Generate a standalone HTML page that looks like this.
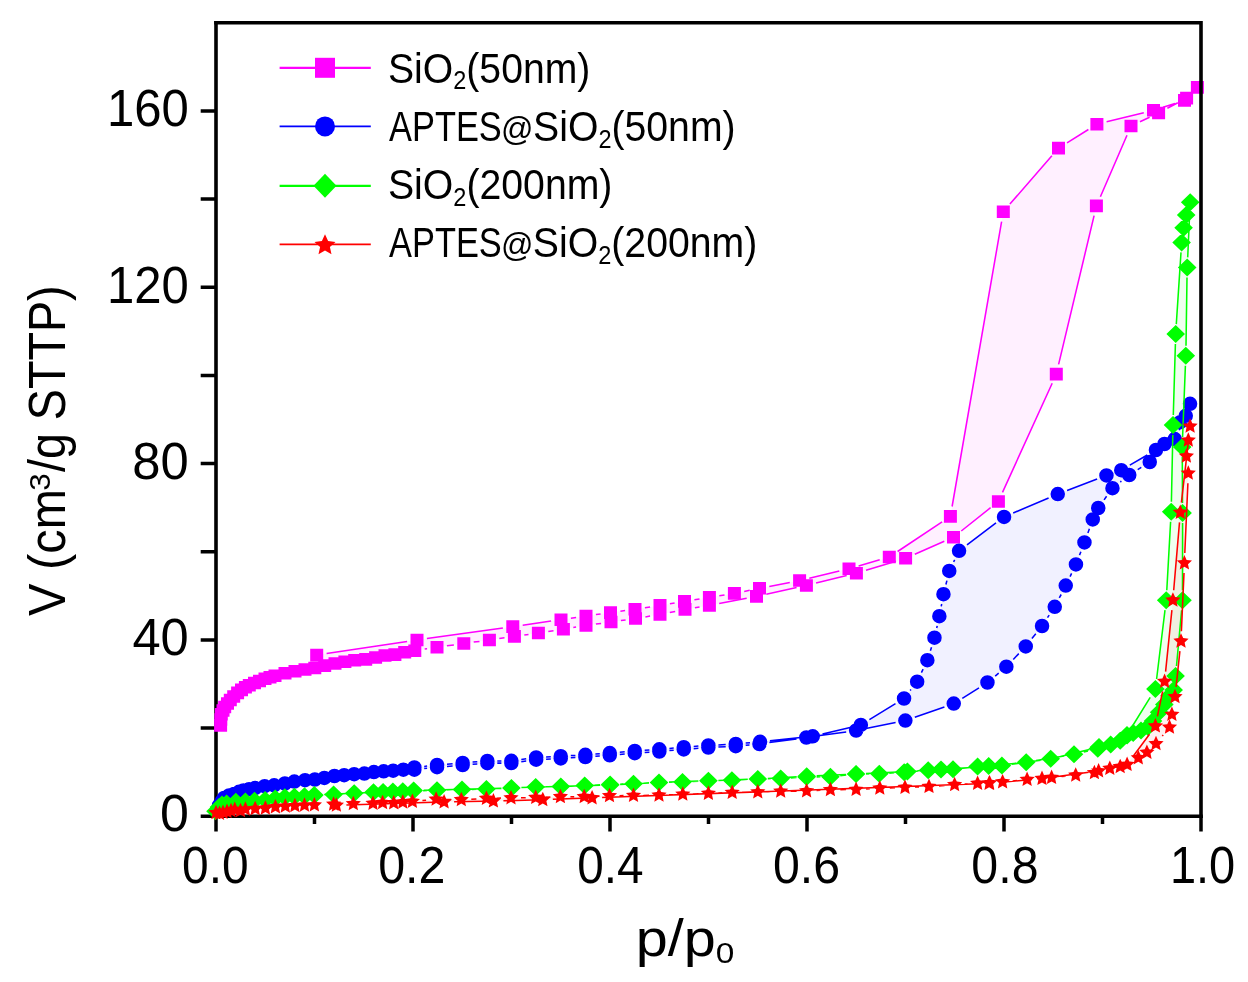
<!DOCTYPE html>
<html><head><meta charset="utf-8"><style>
html,body{margin:0;padding:0;background:#fff;}
body{width:1248px;height:982px;overflow:hidden;}
svg{display:block;will-change:transform;}
</style></head><body>
<svg width="1248" height="982" viewBox="0 0 1248 982">
<rect width="1248" height="982" fill="#fff"/>
<path d="M216 21.0V818.1M214.2 816.3H1202.8" stroke="#000" stroke-width="3.6" fill="none"/>
<path d="M216.0 816.3v15.3M314.5 816.3v7.6M413.0 816.3v15.3M511.5 816.3v7.6M610.0 816.3v15.3M708.5 816.3v7.6M807.0 816.3v15.3M905.5 816.3v7.6M1004.0 816.3v15.3M1102.5 816.3v7.6M1201.0 816.3v15.3M216.0 816.3h-15.3M216.0 728.1h-15.3M216.0 640.0h-15.3M216.0 551.8h-15.3M216.0 463.6h-15.3M216.0 375.5h-15.3M216.0 287.3h-15.3M216.0 199.1h-15.3M216.0 111.0h-15.3" stroke="#000" stroke-width="3.5" fill="none"/>
<path d="M316.7 667.5L324.7 665.6L335.0 663.5L344.9 661.8L354.7 660.3L365.7 659.4L375.6 657.5L385.0 655.5L394.9 654.6L404.7 652.2L414.8 650.7L437.0 647.2L463.8 643.5L489.4 640.0L514.4 636.4L538.4 633.0L563.4 629.2L586.0 625.5L611.0 622.0L635.5 618.5L660.0 614.5L685.0 609.4L709.4 605.4L756.5 596.4L806.4 585.5L856.4 573.2L905.6 558.3L953.5 537.2L998.4 501.5L1056.3 374.1L1096.4 205.9L1131.0 126.0L1158.6 113.0L1186.6 98.1L1197.4 87.4L1197.4 87.4L1184.5 100.4L1153.5 110.3L1096.9 124.2L1058.5 148.1L1003.3 211.7L950.4 516.4L889.3 557.0L849.0 568.7L799.6 580.5L759.5 588.3L734.4 593.4L709.4 597.2L684.5 601.4L660.0 605.4L635.0 609.3L610.5 612.6L586.0 616.0L561.0 619.7L512.8 626.6L417.0 640.0L316.7 655.1z" fill="#fff0ff"/>
<path d="M414.3 769.7L437.0 767.2L462.6 765.1L487.3 763.2L511.4 763.0L536.1 759.7L560.8 758.4L585.4 757.0L609.8 755.3L634.7 753.2L659.4 751.5L683.7 749.4L708.4 747.6L735.7 746.2L759.5 744.0L806.4 737.5L856.1 730.5L905.4 720.6L953.8 703.6L987.5 682.5L1006.4 666.7L1025.7 646.4L1042.0 626.0L1054.7 606.8L1065.8 585.6L1075.9 564.4L1084.5 542.4L1092.8 519.4L1098.3 508.0L1112.4 488.2L1129.3 475.0L1149.7 462.0L1180.3 422.2L1190.0 403.8L1190.0 403.8L1185.8 415.8L1174.8 439.1L1164.4 444.0L1155.9 450.0L1121.2 470.2L1106.4 475.4L1057.8 494.1L1004.0 516.9L959.0 550.8L949.3 570.9L943.5 594.2L939.4 616.2L934.5 637.7L927.4 660.2L917.1 681.7L904.0 698.5L860.9 724.9L812.8 736.3L760.0 741.8L735.7 744.0L708.4 745.4L683.7 747.2L659.4 749.3L634.7 751.0L609.8 753.1L585.4 754.8L560.8 756.2L536.1 757.5L511.4 760.8L487.3 761.0L462.6 762.9L437.0 765.0L414.3 767.5z" fill="#f1f1ff"/>
<path d="M314.3 795.3L333.6 794.4L354.2 793.3L373.5 792.3L383.1 792.0L392.9 791.6L402.8 791.3L413.1 791.0L437.0 790.2L462.0 789.6L486.4 789.1L511.4 787.9L535.7 787.0L560.8 786.6L584.7 785.6L610.1 784.5L633.5 783.7L659.0 782.5L682.5 782.0L708.4 780.7L731.9 780.2L757.8 779.0L780.7 778.6L806.6 777.0L830.4 776.7L856.1 774.1L879.3 773.8L904.2 772.2L928.2 770.3L953.0 769.3L977.6 766.6L988.7 766.1L1026.2 762.2L1074.0 754.2L1097.8 748.8L1110.7 744.6L1120.2 740.7L1127.1 735.6L1133.2 733.0L1141.0 730.4L1147.9 726.9L1153.0 721.0L1159.1 712.2L1164.3 704.4L1169.5 695.8L1173.7 690.0L1175.6 676.0L1182.5 600.2L1182.6 513.0L1182.2 447.0L1185.8 355.7L1187.2 267.4L1190.2 202.2L1190.2 202.2L1186.2 214.9L1183.6 227.7L1181.6 242.4L1175.7 334.1L1173.0 425.0L1171.2 511.8L1166.2 600.2L1155.4 688.9L1127.0 735.0L1099.0 747.0L1050.7 758.8L1001.9 765.6L941.0 769.4L907.4 771.4L856.0 774.0L806.7 776.2L757.8 779.0L708.4 780.7L659.0 782.5L610.2 785.0L511.4 787.9L413.7 790.5L314.3 795.0z" fill="#00ff00" fill-opacity="0.06"/>
<path d="M336.4 804.2L353.3 803.8L373.0 803.4L382.6 802.7L393.7 802.9L402.8 802.2L412.4 801.4L436.1 799.3L461.3 799.7L486.4 798.4L511.0 797.9L535.7 797.6L560.4 796.7L584.2 796.7L609.5 795.8L633.5 795.5L659.0 795.2L682.8 794.3L708.4 793.4L732.2 792.5L757.8 792.0L780.7 791.3L806.6 790.9L830.4 789.8L856.1 789.5L879.8 788.2L905.0 787.4L929.0 786.6L954.6 784.7L977.6 783.4L989.6 782.9L1002.6 781.9L1027.1 779.5L1051.6 777.6L1075.7 775.2L1094.4 772.8L1109.8 768.4L1120.2 766.7L1127.1 764.6L1138.3 757.9L1146.9 752.4L1156.0 743.8L1169.5 727.3L1171.9 714.5L1175.0 696.8L1181.0 641.2L1184.4 563.0L1188.3 473.3L1186.4 456.2L1188.3 440.3L1190.1 426.3L1190.1 426.3L1180.3 512.4L1172.9 600.2L1164.6 681.5L1155.4 726.1L1127.1 764.6L1098.6 771.0L1042.0 778.6L989.1 783.4L592.1 797.9L542.8 799.7L493.4 801.1L444.1 802.0L336.4 805.3z" fill="#ff0000" fill-opacity="0.06"/>
<path d="M424.7 649.1L427.1 648.8M446.9 645.8L453.9 644.9M473.7 642.1L479.5 641.4M499.3 638.6L504.5 637.8M524.3 635.0L528.5 634.4M548.3 631.5L553.5 630.7M573.3 627.6L576.1 627.1M595.9 624.1L601.1 623.4M620.9 620.6L625.6 619.9M645.4 616.9L650.1 616.1M669.8 612.5L675.2 611.4M694.9 607.8L699.5 607.0M719.2 603.5L746.7 598.3M766.3 594.3L796.6 587.6M816.1 583.1L846.7 575.6M866.0 570.3L896.0 561.2M914.8 554.3L944.3 541.2M961.3 531.0L990.6 507.7M1002.5 492.4L1052.2 383.2M1058.6 364.4L1094.1 215.6M1100.4 196.7L1127.0 135.2M1140.0 121.7L1149.6 117.3M1167.4 108.3L1177.8 102.8M1175.0 103.4L1163.0 107.3M1143.8 112.7L1106.6 121.8M1088.4 129.5L1067.0 142.8M1051.9 155.7L1009.9 204.1M1001.6 221.6L952.1 506.5M942.1 521.9L897.6 551.5M879.7 559.8L858.6 565.9M839.3 571.0L809.3 578.2M789.8 582.4L769.3 586.4M749.7 590.3L744.2 591.4M724.5 594.9L719.3 595.7M699.5 598.9L694.4 599.7M674.6 603.0L669.9 603.8M650.1 606.9L644.9 607.8M625.1 610.6L620.4 611.3M600.6 614.0L595.9 614.6M576.1 617.5L570.9 618.2M551.1 621.1L522.7 625.2M502.9 628.0L426.9 638.6M407.1 641.5L326.6 653.6" stroke="#ff00ff" stroke-width="1.55" fill="none"/>
<path d="M214.10 719.10h13.00v12.60h-13.00zM214.30 713.20h13.00v12.60h-13.00zM214.80 707.90h13.00v12.60h-13.00zM216.50 704.20h13.00v12.60h-13.00zM218.20 700.70h13.00v12.60h-13.00zM221.00 697.20h13.00v12.60h-13.00zM223.80 693.70h13.00v12.60h-13.00zM227.20 690.20h13.00v12.60h-13.00zM231.10 686.60h13.00v12.60h-13.00zM235.00 683.60h13.00v12.60h-13.00zM238.90 681.00h13.00v12.60h-13.00zM242.80 679.00h13.00v12.60h-13.00zM248.00 676.70h13.00v12.60h-13.00zM253.00 674.70h13.00v12.60h-13.00zM258.50 672.50h13.00v12.60h-13.00zM263.50 670.90h13.00v12.60h-13.00zM268.50 669.50h13.00v12.60h-13.00zM278.50 666.90h13.00v12.60h-13.00zM288.50 664.90h13.00v12.60h-13.00zM298.50 663.20h13.00v12.60h-13.00zM308.30 661.70h13.00v12.60h-13.00zM318.20 659.30h13.00v12.60h-13.00zM328.50 657.20h13.00v12.60h-13.00zM338.40 655.50h13.00v12.60h-13.00zM348.20 654.00h13.00v12.60h-13.00zM359.20 653.10h13.00v12.60h-13.00zM369.10 651.20h13.00v12.60h-13.00zM378.50 649.20h13.00v12.60h-13.00zM388.40 648.30h13.00v12.60h-13.00zM398.20 645.90h13.00v12.60h-13.00zM408.30 644.40h13.00v12.60h-13.00zM430.50 640.90h13.00v12.60h-13.00zM457.30 637.20h13.00v12.60h-13.00zM482.90 633.70h13.00v12.60h-13.00zM507.90 630.10h13.00v12.60h-13.00zM531.90 626.70h13.00v12.60h-13.00zM556.90 622.90h13.00v12.60h-13.00zM579.50 619.20h13.00v12.60h-13.00zM604.50 615.70h13.00v12.60h-13.00zM629.00 612.20h13.00v12.60h-13.00zM653.50 608.20h13.00v12.60h-13.00zM678.50 603.10h13.00v12.60h-13.00zM702.90 599.10h13.00v12.60h-13.00zM750.00 590.10h13.00v12.60h-13.00zM799.90 579.20h13.00v12.60h-13.00zM849.90 566.90h13.00v12.60h-13.00zM899.10 552.00h13.00v12.60h-13.00zM947.00 530.90h13.00v12.60h-13.00zM991.90 495.20h13.00v12.60h-13.00zM1049.80 367.80h13.00v12.60h-13.00zM1089.90 199.60h13.00v12.60h-13.00zM1124.50 119.70h13.00v12.60h-13.00zM1152.10 106.70h13.00v12.60h-13.00zM1180.10 91.80h13.00v12.60h-13.00zM1190.90 81.10h13.00v12.60h-13.00zM1190.90 81.10h13.00v12.60h-13.00zM1178.00 94.10h13.00v12.60h-13.00zM1147.00 104.00h13.00v12.60h-13.00zM1090.40 117.90h13.00v12.60h-13.00zM1052.00 141.80h13.00v12.60h-13.00zM996.80 205.40h13.00v12.60h-13.00zM943.90 510.10h13.00v12.60h-13.00zM882.80 550.70h13.00v12.60h-13.00zM842.50 562.40h13.00v12.60h-13.00zM793.10 574.20h13.00v12.60h-13.00zM753.00 582.00h13.00v12.60h-13.00zM727.90 587.10h13.00v12.60h-13.00zM702.90 590.90h13.00v12.60h-13.00zM678.00 595.10h13.00v12.60h-13.00zM653.50 599.10h13.00v12.60h-13.00zM628.50 603.00h13.00v12.60h-13.00zM604.00 606.30h13.00v12.60h-13.00zM579.50 609.70h13.00v12.60h-13.00zM554.50 613.40h13.00v12.60h-13.00zM506.30 620.30h13.00v12.60h-13.00zM410.50 633.70h13.00v12.60h-13.00zM310.20 648.80h13.00v12.60h-13.00z" fill="#ff00ff"/>
<path d="M424.2 768.6L427.1 768.3M447.0 766.4L452.6 765.9M472.6 764.3L477.3 764.0M497.3 763.1L501.4 763.1M521.3 761.7L526.2 761.0M546.1 759.2L550.8 758.9M570.8 757.8L575.4 757.6M595.4 756.3L599.8 756.0M619.8 754.5L624.7 754.0M644.7 752.5L649.4 752.2M669.4 750.6L673.7 750.3M693.7 748.7L698.4 748.3M718.4 747.1L725.7 746.7M745.7 745.3L749.5 744.9M769.4 742.6L796.5 738.9M816.3 736.1L846.2 731.9M865.9 728.5L895.6 722.6M914.8 717.3L944.4 706.9M962.3 698.3L979.0 687.8M995.2 676.1L998.7 673.1M1013.3 659.5L1018.8 653.6M1031.9 638.6L1035.8 633.8M1047.5 617.7L1049.2 615.1M1059.3 597.9L1061.2 594.5M1070.1 576.6L1071.6 573.4M1079.5 555.1L1080.9 551.7M1087.9 533.0L1089.4 528.8M1104.1 499.9L1106.6 496.3M1120.3 482.0L1121.4 481.2M1137.7 469.6L1141.3 467.4M1155.8 454.1L1174.2 430.1M1185.0 413.4L1185.3 412.6M1181.5 424.8L1179.1 430.1M1147.3 455.0L1129.8 465.2M1097.1 479.0L1067.1 490.5M1048.6 498.0L1013.2 513.0M996.0 522.9L967.0 544.8M954.7 559.8L953.6 561.9M946.9 580.6L945.9 584.5M941.7 604.0L941.2 606.4M937.2 625.9L936.7 628.0M931.5 647.2L930.4 650.7M923.1 669.2L921.4 672.7M911.0 689.6L910.1 690.6M895.5 703.7L869.4 719.7M851.2 727.2L822.5 734.0M802.9 737.3L769.9 740.8M750.0 742.7L745.7 743.1M725.7 744.5L718.4 744.9M698.4 746.1L693.7 746.5M673.7 748.1L669.4 748.4M649.4 750.0L644.7 750.3M624.7 751.8L619.8 752.3M599.8 753.8L595.4 754.1M575.4 755.4L570.8 755.6M550.8 756.7L546.1 757.0M526.2 758.8L521.3 759.5M501.4 760.9L497.3 760.9M477.3 761.8L472.6 762.1M452.6 763.7L447.0 764.2M427.1 766.1L424.2 766.4" stroke="#0000ff" stroke-width="1.55" fill="none"/>
<path d="M211.8 805.5a7.25 7.25 0 1 0 14.5 0a7.25 7.25 0 1 0 -14.5 0zM214.8 801.0a7.25 7.25 0 1 0 14.5 0a7.25 7.25 0 1 0 -14.5 0zM216.8 798.0a7.25 7.25 0 1 0 14.5 0a7.25 7.25 0 1 0 -14.5 0zM221.8 795.5a7.25 7.25 0 1 0 14.5 0a7.25 7.25 0 1 0 -14.5 0zM226.8 794.0a7.25 7.25 0 1 0 14.5 0a7.25 7.25 0 1 0 -14.5 0zM231.8 791.8a7.25 7.25 0 1 0 14.5 0a7.25 7.25 0 1 0 -14.5 0zM236.2 790.5a7.25 7.25 0 1 0 14.5 0a7.25 7.25 0 1 0 -14.5 0zM241.8 789.3a7.25 7.25 0 1 0 14.5 0a7.25 7.25 0 1 0 -14.5 0zM247.8 788.1a7.25 7.25 0 1 0 14.5 0a7.25 7.25 0 1 0 -14.5 0zM257.4 786.2a7.25 7.25 0 1 0 14.5 0a7.25 7.25 0 1 0 -14.5 0zM266.9 785.3a7.25 7.25 0 1 0 14.5 0a7.25 7.25 0 1 0 -14.5 0zM277.6 783.5a7.25 7.25 0 1 0 14.5 0a7.25 7.25 0 1 0 -14.5 0zM287.1 781.6a7.25 7.25 0 1 0 14.5 0a7.25 7.25 0 1 0 -14.5 0zM297.8 780.2a7.25 7.25 0 1 0 14.5 0a7.25 7.25 0 1 0 -14.5 0zM307.6 779.5a7.25 7.25 0 1 0 14.5 0a7.25 7.25 0 1 0 -14.5 0zM317.1 777.9a7.25 7.25 0 1 0 14.5 0a7.25 7.25 0 1 0 -14.5 0zM327.2 776.0a7.25 7.25 0 1 0 14.5 0a7.25 7.25 0 1 0 -14.5 0zM336.9 775.2a7.25 7.25 0 1 0 14.5 0a7.25 7.25 0 1 0 -14.5 0zM346.9 774.2a7.25 7.25 0 1 0 14.5 0a7.25 7.25 0 1 0 -14.5 0zM357.1 773.6a7.25 7.25 0 1 0 14.5 0a7.25 7.25 0 1 0 -14.5 0zM366.6 772.1a7.25 7.25 0 1 0 14.5 0a7.25 7.25 0 1 0 -14.5 0zM376.4 771.3a7.25 7.25 0 1 0 14.5 0a7.25 7.25 0 1 0 -14.5 0zM385.9 770.7a7.25 7.25 0 1 0 14.5 0a7.25 7.25 0 1 0 -14.5 0zM396.1 769.7a7.25 7.25 0 1 0 14.5 0a7.25 7.25 0 1 0 -14.5 0zM407.1 769.7a7.25 7.25 0 1 0 14.5 0a7.25 7.25 0 1 0 -14.5 0zM429.8 767.2a7.25 7.25 0 1 0 14.5 0a7.25 7.25 0 1 0 -14.5 0zM455.4 765.1a7.25 7.25 0 1 0 14.5 0a7.25 7.25 0 1 0 -14.5 0zM480.1 763.2a7.25 7.25 0 1 0 14.5 0a7.25 7.25 0 1 0 -14.5 0zM504.1 763.0a7.25 7.25 0 1 0 14.5 0a7.25 7.25 0 1 0 -14.5 0zM528.9 759.7a7.25 7.25 0 1 0 14.5 0a7.25 7.25 0 1 0 -14.5 0zM553.5 758.4a7.25 7.25 0 1 0 14.5 0a7.25 7.25 0 1 0 -14.5 0zM578.1 757.0a7.25 7.25 0 1 0 14.5 0a7.25 7.25 0 1 0 -14.5 0zM602.5 755.3a7.25 7.25 0 1 0 14.5 0a7.25 7.25 0 1 0 -14.5 0zM627.5 753.2a7.25 7.25 0 1 0 14.5 0a7.25 7.25 0 1 0 -14.5 0zM652.1 751.5a7.25 7.25 0 1 0 14.5 0a7.25 7.25 0 1 0 -14.5 0zM676.5 749.4a7.25 7.25 0 1 0 14.5 0a7.25 7.25 0 1 0 -14.5 0zM701.1 747.6a7.25 7.25 0 1 0 14.5 0a7.25 7.25 0 1 0 -14.5 0zM728.5 746.2a7.25 7.25 0 1 0 14.5 0a7.25 7.25 0 1 0 -14.5 0zM752.2 744.0a7.25 7.25 0 1 0 14.5 0a7.25 7.25 0 1 0 -14.5 0zM799.1 737.5a7.25 7.25 0 1 0 14.5 0a7.25 7.25 0 1 0 -14.5 0zM848.9 730.5a7.25 7.25 0 1 0 14.5 0a7.25 7.25 0 1 0 -14.5 0zM898.1 720.6a7.25 7.25 0 1 0 14.5 0a7.25 7.25 0 1 0 -14.5 0zM946.5 703.6a7.25 7.25 0 1 0 14.5 0a7.25 7.25 0 1 0 -14.5 0zM980.2 682.5a7.25 7.25 0 1 0 14.5 0a7.25 7.25 0 1 0 -14.5 0zM999.1 666.7a7.25 7.25 0 1 0 14.5 0a7.25 7.25 0 1 0 -14.5 0zM1018.5 646.4a7.25 7.25 0 1 0 14.5 0a7.25 7.25 0 1 0 -14.5 0zM1034.8 626.0a7.25 7.25 0 1 0 14.5 0a7.25 7.25 0 1 0 -14.5 0zM1047.5 606.8a7.25 7.25 0 1 0 14.5 0a7.25 7.25 0 1 0 -14.5 0zM1058.5 585.6a7.25 7.25 0 1 0 14.5 0a7.25 7.25 0 1 0 -14.5 0zM1068.7 564.4a7.25 7.25 0 1 0 14.5 0a7.25 7.25 0 1 0 -14.5 0zM1077.2 542.4a7.25 7.25 0 1 0 14.5 0a7.25 7.25 0 1 0 -14.5 0zM1085.5 519.4a7.25 7.25 0 1 0 14.5 0a7.25 7.25 0 1 0 -14.5 0zM1091.0 508.0a7.25 7.25 0 1 0 14.5 0a7.25 7.25 0 1 0 -14.5 0zM1105.2 488.2a7.25 7.25 0 1 0 14.5 0a7.25 7.25 0 1 0 -14.5 0zM1122.0 475.0a7.25 7.25 0 1 0 14.5 0a7.25 7.25 0 1 0 -14.5 0zM1142.5 462.0a7.25 7.25 0 1 0 14.5 0a7.25 7.25 0 1 0 -14.5 0zM1173.0 422.2a7.25 7.25 0 1 0 14.5 0a7.25 7.25 0 1 0 -14.5 0zM1182.8 403.8a7.25 7.25 0 1 0 14.5 0a7.25 7.25 0 1 0 -14.5 0zM1182.8 403.8a7.25 7.25 0 1 0 14.5 0a7.25 7.25 0 1 0 -14.5 0zM1178.5 415.8a7.25 7.25 0 1 0 14.5 0a7.25 7.25 0 1 0 -14.5 0zM1167.5 439.1a7.25 7.25 0 1 0 14.5 0a7.25 7.25 0 1 0 -14.5 0zM1157.2 444.0a7.25 7.25 0 1 0 14.5 0a7.25 7.25 0 1 0 -14.5 0zM1148.7 450.0a7.25 7.25 0 1 0 14.5 0a7.25 7.25 0 1 0 -14.5 0zM1114.0 470.2a7.25 7.25 0 1 0 14.5 0a7.25 7.25 0 1 0 -14.5 0zM1099.2 475.4a7.25 7.25 0 1 0 14.5 0a7.25 7.25 0 1 0 -14.5 0zM1050.5 494.1a7.25 7.25 0 1 0 14.5 0a7.25 7.25 0 1 0 -14.5 0zM996.8 516.9a7.25 7.25 0 1 0 14.5 0a7.25 7.25 0 1 0 -14.5 0zM951.8 550.8a7.25 7.25 0 1 0 14.5 0a7.25 7.25 0 1 0 -14.5 0zM942.0 570.9a7.25 7.25 0 1 0 14.5 0a7.25 7.25 0 1 0 -14.5 0zM936.2 594.2a7.25 7.25 0 1 0 14.5 0a7.25 7.25 0 1 0 -14.5 0zM932.1 616.2a7.25 7.25 0 1 0 14.5 0a7.25 7.25 0 1 0 -14.5 0zM927.2 637.7a7.25 7.25 0 1 0 14.5 0a7.25 7.25 0 1 0 -14.5 0zM920.1 660.2a7.25 7.25 0 1 0 14.5 0a7.25 7.25 0 1 0 -14.5 0zM909.9 681.7a7.25 7.25 0 1 0 14.5 0a7.25 7.25 0 1 0 -14.5 0zM896.8 698.5a7.25 7.25 0 1 0 14.5 0a7.25 7.25 0 1 0 -14.5 0zM853.6 724.9a7.25 7.25 0 1 0 14.5 0a7.25 7.25 0 1 0 -14.5 0zM805.5 736.3a7.25 7.25 0 1 0 14.5 0a7.25 7.25 0 1 0 -14.5 0zM752.8 741.8a7.25 7.25 0 1 0 14.5 0a7.25 7.25 0 1 0 -14.5 0zM728.5 744.0a7.25 7.25 0 1 0 14.5 0a7.25 7.25 0 1 0 -14.5 0zM701.1 745.4a7.25 7.25 0 1 0 14.5 0a7.25 7.25 0 1 0 -14.5 0zM676.5 747.2a7.25 7.25 0 1 0 14.5 0a7.25 7.25 0 1 0 -14.5 0zM652.1 749.3a7.25 7.25 0 1 0 14.5 0a7.25 7.25 0 1 0 -14.5 0zM627.5 751.0a7.25 7.25 0 1 0 14.5 0a7.25 7.25 0 1 0 -14.5 0zM602.5 753.1a7.25 7.25 0 1 0 14.5 0a7.25 7.25 0 1 0 -14.5 0zM578.1 754.8a7.25 7.25 0 1 0 14.5 0a7.25 7.25 0 1 0 -14.5 0zM553.5 756.2a7.25 7.25 0 1 0 14.5 0a7.25 7.25 0 1 0 -14.5 0zM528.9 757.5a7.25 7.25 0 1 0 14.5 0a7.25 7.25 0 1 0 -14.5 0zM504.1 760.8a7.25 7.25 0 1 0 14.5 0a7.25 7.25 0 1 0 -14.5 0zM480.1 761.0a7.25 7.25 0 1 0 14.5 0a7.25 7.25 0 1 0 -14.5 0zM455.4 762.9a7.25 7.25 0 1 0 14.5 0a7.25 7.25 0 1 0 -14.5 0zM429.8 765.0a7.25 7.25 0 1 0 14.5 0a7.25 7.25 0 1 0 -14.5 0zM407.1 767.5a7.25 7.25 0 1 0 14.5 0a7.25 7.25 0 1 0 -14.5 0z" fill="#0000ff"/>
<path d="M343.6 793.9L344.2 793.8M423.1 790.7L427.0 790.5M447.0 790.0L452.0 789.8M472.0 789.4L476.4 789.3M496.4 788.6L501.4 788.4M521.4 787.5L525.7 787.4M545.7 786.8L550.8 786.8M570.8 786.2L574.7 786.0M594.7 785.2L600.1 784.9M620.1 784.2L623.5 784.0M643.5 783.2L649.0 783.0M669.0 782.3L672.5 782.2M692.5 781.5L698.4 781.2M718.4 780.5L721.9 780.4M741.9 779.7L747.8 779.5M767.8 778.8L770.7 778.8M790.7 778.0L796.6 777.6M816.6 776.9L820.4 776.8M840.3 775.7L846.2 775.1M866.1 774.0L869.3 773.9M889.3 773.2L894.2 772.8M914.2 771.4L918.2 771.1M938.2 769.9L943.0 769.7M962.9 768.2L967.7 767.7M998.6 765.1L1016.3 763.2M1036.1 760.5L1064.1 755.9M1083.8 752.0L1088.0 751.0M1176.5 666.0L1181.6 610.2M1182.5 590.2L1182.6 523.0M1182.5 503.0L1182.3 457.0M1182.6 437.0L1185.4 365.7M1186.0 345.7L1187.0 277.4M1187.7 257.4L1189.7 212.2M1181.0 252.4L1176.3 324.1M1175.4 344.1L1173.3 415.0M1172.8 435.0L1171.4 501.8M1170.6 521.8L1166.8 590.2M1165.0 610.1L1156.6 679.0M1150.2 697.4L1132.2 726.5M1117.8 738.9L1108.2 743.1M1089.3 749.4L1060.4 756.4M1040.8 760.2L1011.8 764.2M991.9 766.2L951.0 768.8M931.0 770.0L917.4 770.8M897.4 771.9L866.0 773.5M846.0 774.4L816.7 775.8M796.7 776.8L767.8 778.4M747.8 779.3L718.4 780.4M698.4 781.1L669.0 782.1M649.0 783.0L620.2 784.5M600.2 785.3L521.4 787.6M501.4 788.2L423.7 790.2M403.7 791.0L324.3 794.5" stroke="#00ff00" stroke-width="1.55" fill="none"/>
<path d="M215.5 802.2L224.8 811.2L215.5 820.2L206.2 811.2zM219.0 798.0L228.3 807.0L219.0 816.0L209.7 807.0zM222.0 795.5L231.3 804.5L222.0 813.5L212.7 804.5zM226.6 794.5L235.9 803.5L226.6 812.5L217.3 803.5zM235.8 792.8L245.1 801.8L235.8 810.8L226.5 801.8zM245.4 792.4L254.7 801.4L245.4 810.4L236.1 801.4zM254.5 791.7L263.8 800.7L254.5 809.7L245.2 800.7zM265.1 790.9L274.4 799.9L265.1 808.9L255.8 799.9zM275.2 789.4L284.5 798.4L275.2 807.4L265.9 798.4zM284.8 788.3L294.1 797.3L284.8 806.3L275.5 797.3zM294.4 787.8L303.7 796.8L294.4 805.8L285.1 796.8zM304.5 787.2L313.8 796.2L304.5 805.2L295.2 796.2zM314.3 786.3L323.6 795.3L314.3 804.3L305.0 795.3zM333.6 785.4L342.9 794.4L333.6 803.4L324.3 794.4zM354.2 784.3L363.5 793.3L354.2 802.3L344.9 793.3zM373.5 783.3L382.8 792.3L373.5 801.3L364.2 792.3zM383.1 783.0L392.4 792.0L383.1 801.0L373.8 792.0zM392.9 782.6L402.2 791.6L392.9 800.6L383.6 791.6zM402.8 782.3L412.1 791.3L402.8 800.3L393.5 791.3zM413.1 782.0L422.4 791.0L413.1 800.0L403.8 791.0zM437.0 781.2L446.3 790.2L437.0 799.2L427.7 790.2zM462.0 780.6L471.3 789.6L462.0 798.6L452.7 789.6zM486.4 780.1L495.7 789.1L486.4 798.1L477.1 789.1zM511.4 778.9L520.7 787.9L511.4 796.9L502.1 787.9zM535.7 778.0L545.0 787.0L535.7 796.0L526.4 787.0zM560.8 777.6L570.1 786.6L560.8 795.6L551.5 786.6zM584.7 776.6L594.0 785.6L584.7 794.6L575.4 785.6zM610.1 775.5L619.4 784.5L610.1 793.5L600.8 784.5zM633.5 774.7L642.8 783.7L633.5 792.7L624.2 783.7zM659.0 773.5L668.3 782.5L659.0 791.5L649.7 782.5zM682.5 773.0L691.8 782.0L682.5 791.0L673.2 782.0zM708.4 771.7L717.7 780.7L708.4 789.7L699.1 780.7zM731.9 771.2L741.2 780.2L731.9 789.2L722.6 780.2zM757.8 770.0L767.1 779.0L757.8 788.0L748.5 779.0zM780.7 769.6L790.0 778.6L780.7 787.6L771.4 778.6zM806.6 768.0L815.9 777.0L806.6 786.0L797.3 777.0zM830.4 767.7L839.7 776.7L830.4 785.7L821.1 776.7zM856.1 765.1L865.4 774.1L856.1 783.1L846.8 774.1zM879.3 764.8L888.6 773.8L879.3 782.8L870.0 773.8zM904.2 763.2L913.5 772.2L904.2 781.2L894.9 772.2zM928.2 761.3L937.5 770.3L928.2 779.3L918.9 770.3zM953.0 760.3L962.3 769.3L953.0 778.3L943.7 769.3zM977.6 757.6L986.9 766.6L977.6 775.6L968.3 766.6zM988.7 757.1L998.0 766.1L988.7 775.1L979.4 766.1zM1026.2 753.2L1035.5 762.2L1026.2 771.2L1016.9 762.2zM1074.0 745.2L1083.3 754.2L1074.0 763.2L1064.7 754.2zM1097.8 739.8L1107.1 748.8L1097.8 757.8L1088.5 748.8zM1110.7 735.6L1120.0 744.6L1110.7 753.6L1101.4 744.6zM1120.2 731.7L1129.5 740.7L1120.2 749.7L1110.9 740.7zM1127.1 726.6L1136.4 735.6L1127.1 744.6L1117.8 735.6zM1133.2 724.0L1142.5 733.0L1133.2 742.0L1123.9 733.0zM1141.0 721.4L1150.3 730.4L1141.0 739.4L1131.7 730.4zM1147.9 717.9L1157.2 726.9L1147.9 735.9L1138.6 726.9zM1153.0 712.0L1162.3 721.0L1153.0 730.0L1143.7 721.0zM1159.1 703.2L1168.4 712.2L1159.1 721.2L1149.8 712.2zM1164.3 695.4L1173.6 704.4L1164.3 713.4L1155.0 704.4zM1169.5 686.8L1178.8 695.8L1169.5 704.8L1160.2 695.8zM1173.7 681.0L1183.0 690.0L1173.7 699.0L1164.4 690.0zM1175.6 667.0L1184.9 676.0L1175.6 685.0L1166.3 676.0zM1182.5 591.2L1191.8 600.2L1182.5 609.2L1173.2 600.2zM1182.6 504.0L1191.9 513.0L1182.6 522.0L1173.3 513.0zM1182.2 438.0L1191.5 447.0L1182.2 456.0L1172.9 447.0zM1185.8 346.7L1195.1 355.7L1185.8 364.7L1176.5 355.7zM1187.2 258.4L1196.5 267.4L1187.2 276.4L1177.9 267.4zM1190.2 193.2L1199.5 202.2L1190.2 211.2L1180.9 202.2zM1190.2 193.2L1199.5 202.2L1190.2 211.2L1180.9 202.2zM1186.2 205.9L1195.5 214.9L1186.2 223.9L1176.9 214.9zM1183.6 218.7L1192.9 227.7L1183.6 236.7L1174.3 227.7zM1181.6 233.4L1190.9 242.4L1181.6 251.4L1172.3 242.4zM1175.7 325.1L1185.0 334.1L1175.7 343.1L1166.4 334.1zM1173.0 416.0L1182.3 425.0L1173.0 434.0L1163.7 425.0zM1171.2 502.8L1180.5 511.8L1171.2 520.8L1161.9 511.8zM1166.2 591.2L1175.5 600.2L1166.2 609.2L1156.9 600.2zM1155.4 679.9L1164.7 688.9L1155.4 697.9L1146.1 688.9zM1127.0 726.0L1136.3 735.0L1127.0 744.0L1117.7 735.0zM1099.0 738.0L1108.3 747.0L1099.0 756.0L1089.7 747.0zM1050.7 749.8L1060.0 758.8L1050.7 767.8L1041.4 758.8zM1001.9 756.6L1011.2 765.6L1001.9 774.6L992.6 765.6zM941.0 760.4L950.3 769.4L941.0 778.4L931.7 769.4zM907.4 762.4L916.7 771.4L907.4 780.4L898.1 771.4zM856.0 765.0L865.3 774.0L856.0 783.0L846.7 774.0zM806.7 767.2L816.0 776.2L806.7 785.2L797.4 776.2zM757.8 770.0L767.1 779.0L757.8 788.0L748.5 779.0zM708.4 771.7L717.7 780.7L708.4 789.7L699.1 780.7zM659.0 773.5L668.3 782.5L659.0 791.5L649.7 782.5zM610.2 776.0L619.5 785.0L610.2 794.0L600.9 785.0zM511.4 778.9L520.7 787.9L511.4 796.9L502.1 787.9zM413.7 781.5L423.0 790.5L413.7 799.5L404.4 790.5zM314.3 786.0L323.6 795.0L314.3 804.0L305.0 795.0z" fill="#00ff00"/>
<path d="M422.4 800.5L426.1 800.2M446.1 799.5L451.3 799.5M471.3 799.2L476.4 798.9M496.4 798.2L501.0 798.1M521.0 797.8L525.7 797.7M545.7 797.2L550.4 797.1M570.4 796.7L574.2 796.7M594.2 796.3L599.5 796.2M619.5 795.7L623.5 795.6M643.5 795.4L649.0 795.3M669.0 794.8L672.8 794.7M692.8 793.9L698.4 793.8M718.4 793.0L722.2 792.9M742.2 792.3L747.8 792.2M767.8 791.7L770.7 791.6M790.7 791.1L796.6 791.1M816.6 790.4L820.4 790.3M840.4 789.7L846.1 789.6M866.1 789.0L869.8 788.7M889.8 787.9L895.0 787.7M915.0 787.1L919.0 786.9M939.0 785.9L944.6 785.4M964.6 784.1L967.6 784.0M1012.6 780.9L1017.1 780.5M1037.1 778.7L1041.6 778.4M1061.6 776.6L1065.7 776.2M1162.3 736.1L1163.2 735.0M1176.1 686.9L1179.9 651.1M1181.4 631.2L1184.0 573.0M1184.8 553.0L1187.9 483.3M1189.0 436.2L1181.4 502.5M1179.5 522.4L1173.7 590.2M1171.9 610.1L1165.6 671.6M1162.6 691.3L1157.4 716.3M1149.5 734.2L1133.0 756.5M1117.3 766.8L1108.4 768.8M1088.7 772.3L1051.9 777.3M1032.0 779.5L999.1 782.5M979.1 783.8L602.1 797.5M582.1 798.3L552.8 799.3M532.8 800.0L503.4 800.8M483.4 801.3L454.1 801.8M434.1 802.3L346.4 805.0" stroke="#ff0000" stroke-width="1.55" fill="none"/>
<path d="M216.0 804.8L218.2 809.7L223.6 810.3L219.6 814.0L220.7 819.3L216.0 816.6L211.3 819.3L212.4 814.0L208.4 810.3L213.8 809.7zM219.5 805.4L221.7 810.3L227.1 810.9L223.1 814.6L224.2 819.9L219.5 817.2L214.8 819.9L215.9 814.6L211.9 810.9L217.3 810.3zM223.0 804.5L225.2 809.4L230.6 810.0L226.6 813.7L227.7 819.0L223.0 816.3L218.3 819.0L219.4 813.7L215.4 810.0L220.8 809.4zM227.0 803.6L229.2 808.5L234.6 809.1L230.6 812.8L231.7 818.1L227.0 815.4L222.3 818.1L223.4 812.8L219.4 809.1L224.8 808.5zM231.0 802.8L233.2 807.7L238.6 808.3L234.6 812.0L235.7 817.3L231.0 814.6L226.3 817.3L227.4 812.0L223.4 808.3L228.8 807.7zM234.8 801.6L237.0 806.5L242.4 807.1L238.4 810.8L239.5 816.1L234.8 813.4L230.1 816.1L231.2 810.8L227.2 807.1L232.6 806.5zM240.5 802.8L242.7 807.7L248.1 808.3L244.1 812.0L245.2 817.3L240.5 814.6L235.8 817.3L236.9 812.0L232.9 808.3L238.3 807.7zM245.4 801.3L247.6 806.2L253.0 806.8L249.0 810.5L250.1 815.8L245.4 813.1L240.7 815.8L241.8 810.5L237.8 806.8L243.2 806.2zM255.2 800.7L257.4 805.6L262.8 806.2L258.8 809.9L259.9 815.2L255.2 812.5L250.5 815.2L251.6 809.9L247.6 806.2L253.0 805.6zM265.4 800.2L267.6 805.1L273.0 805.7L269.0 809.4L270.1 814.7L265.4 812.0L260.7 814.7L261.8 809.4L257.8 805.7L263.2 805.1zM275.4 798.9L277.6 803.8L283.0 804.4L279.0 808.1L280.1 813.4L275.4 810.7L270.7 813.4L271.8 808.1L267.8 804.4L273.2 803.8zM285.3 798.3L287.5 803.2L292.9 803.8L288.9 807.5L290.0 812.8L285.3 810.1L280.6 812.8L281.7 807.5L277.7 803.8L283.1 803.2zM294.9 797.8L297.1 802.7L302.5 803.3L298.5 807.0L299.6 812.3L294.9 809.6L290.2 812.3L291.3 807.0L287.3 803.3L292.7 802.7zM304.5 797.3L306.7 802.2L312.1 802.8L308.1 806.5L309.2 811.8L304.5 809.1L299.8 811.8L300.9 806.5L296.9 802.8L302.3 802.2zM314.4 797.0L316.6 801.9L322.0 802.5L318.0 806.2L319.1 811.5L314.4 808.8L309.7 811.5L310.8 806.2L306.8 802.5L312.2 801.9zM333.6 796.3L335.8 801.2L341.2 801.8L337.2 805.5L338.3 810.8L333.6 808.1L328.9 810.8L330.0 805.5L326.0 801.8L331.4 801.2zM353.3 795.8L355.5 800.7L360.9 801.3L356.9 805.0L358.0 810.3L353.3 807.6L348.6 810.3L349.7 805.0L345.7 801.3L351.1 800.7zM373.0 795.4L375.2 800.3L380.6 800.9L376.6 804.6L377.7 809.9L373.0 807.2L368.3 809.9L369.4 804.6L365.4 800.9L370.8 800.3zM382.6 794.7L384.8 799.6L390.2 800.2L386.2 803.9L387.3 809.2L382.6 806.5L377.9 809.2L379.0 803.9L375.0 800.2L380.4 799.6zM393.7 794.9L395.9 799.8L401.3 800.4L397.3 804.1L398.4 809.4L393.7 806.7L389.0 809.4L390.1 804.1L386.1 800.4L391.5 799.8zM402.8 794.2L405.0 799.1L410.4 799.7L406.4 803.4L407.5 808.7L402.8 806.0L398.1 808.7L399.2 803.4L395.2 799.7L400.6 799.1zM412.4 793.4L414.6 798.3L420.0 798.9L416.0 802.6L417.1 807.9L412.4 805.2L407.7 807.9L408.8 802.6L404.8 798.9L410.2 798.3zM436.1 791.3L438.3 796.2L443.7 796.8L439.7 800.5L440.8 805.8L436.1 803.1L431.4 805.8L432.5 800.5L428.5 796.8L433.9 796.2zM461.3 791.7L463.5 796.6L468.9 797.2L464.9 800.9L466.0 806.2L461.3 803.5L456.6 806.2L457.7 800.9L453.7 797.2L459.1 796.6zM486.4 790.4L488.6 795.3L494.0 795.9L490.0 799.6L491.1 804.9L486.4 802.2L481.7 804.9L482.8 799.6L478.8 795.9L484.2 795.3zM511.0 789.9L513.2 794.8L518.6 795.4L514.6 799.1L515.7 804.4L511.0 801.7L506.3 804.4L507.4 799.1L503.4 795.4L508.8 794.8zM535.7 789.6L537.9 794.5L543.3 795.1L539.3 798.8L540.4 804.1L535.7 801.4L531.0 804.1L532.1 798.8L528.1 795.1L533.5 794.5zM560.4 788.7L562.6 793.6L568.0 794.2L564.0 797.9L565.1 803.2L560.4 800.5L555.7 803.2L556.8 797.9L552.8 794.2L558.2 793.6zM584.2 788.7L586.4 793.6L591.8 794.2L587.8 797.9L588.9 803.2L584.2 800.5L579.5 803.2L580.6 797.9L576.6 794.2L582.0 793.6zM609.5 787.8L611.7 792.7L617.1 793.3L613.1 797.0L614.2 802.3L609.5 799.6L604.8 802.3L605.9 797.0L601.9 793.3L607.3 792.7zM633.5 787.5L635.7 792.4L641.1 793.0L637.1 796.7L638.2 802.0L633.5 799.3L628.8 802.0L629.9 796.7L625.9 793.0L631.3 792.4zM659.0 787.2L661.2 792.1L666.6 792.7L662.6 796.4L663.7 801.7L659.0 799.0L654.3 801.7L655.4 796.4L651.4 792.7L656.8 792.1zM682.8 786.3L685.0 791.2L690.4 791.8L686.4 795.5L687.5 800.8L682.8 798.1L678.1 800.8L679.2 795.5L675.2 791.8L680.6 791.2zM708.4 785.4L710.6 790.3L716.0 790.9L712.0 794.6L713.1 799.9L708.4 797.2L703.7 799.9L704.8 794.6L700.8 790.9L706.2 790.3zM732.2 784.5L734.4 789.4L739.8 790.0L735.8 793.7L736.9 799.0L732.2 796.3L727.5 799.0L728.6 793.7L724.6 790.0L730.0 789.4zM757.8 784.0L760.0 788.9L765.4 789.5L761.4 793.2L762.5 798.5L757.8 795.8L753.1 798.5L754.2 793.2L750.2 789.5L755.6 788.9zM780.7 783.3L782.9 788.2L788.3 788.8L784.3 792.5L785.4 797.8L780.7 795.1L776.0 797.8L777.1 792.5L773.1 788.8L778.5 788.2zM806.6 782.9L808.8 787.8L814.2 788.4L810.2 792.1L811.3 797.4L806.6 794.7L801.9 797.4L803.0 792.1L799.0 788.4L804.4 787.8zM830.4 781.8L832.6 786.7L838.0 787.3L834.0 791.0L835.1 796.3L830.4 793.6L825.7 796.3L826.8 791.0L822.8 787.3L828.2 786.7zM856.1 781.5L858.3 786.4L863.7 787.0L859.7 790.7L860.8 796.0L856.1 793.3L851.4 796.0L852.5 790.7L848.5 787.0L853.9 786.4zM879.8 780.2L882.0 785.1L887.4 785.7L883.4 789.4L884.5 794.7L879.8 792.0L875.1 794.7L876.2 789.4L872.2 785.7L877.6 785.1zM905.0 779.4L907.2 784.3L912.6 784.9L908.6 788.6L909.7 793.9L905.0 791.2L900.3 793.9L901.4 788.6L897.4 784.9L902.8 784.3zM929.0 778.6L931.2 783.5L936.6 784.1L932.6 787.8L933.7 793.1L929.0 790.4L924.3 793.1L925.4 787.8L921.4 784.1L926.8 783.5zM954.6 776.7L956.8 781.6L962.2 782.2L958.2 785.9L959.3 791.2L954.6 788.5L949.9 791.2L951.0 785.9L947.0 782.2L952.4 781.6zM977.6 775.4L979.8 780.3L985.2 780.9L981.2 784.6L982.3 789.9L977.6 787.2L972.9 789.9L974.0 784.6L970.0 780.9L975.4 780.3zM989.6 774.9L991.8 779.8L997.2 780.4L993.2 784.1L994.3 789.4L989.6 786.7L984.9 789.4L986.0 784.1L982.0 780.4L987.4 779.8zM1002.6 773.9L1004.8 778.8L1010.2 779.4L1006.2 783.1L1007.3 788.4L1002.6 785.7L997.9 788.4L999.0 783.1L995.0 779.4L1000.4 778.8zM1027.1 771.5L1029.3 776.4L1034.7 777.0L1030.7 780.7L1031.8 786.0L1027.1 783.3L1022.4 786.0L1023.5 780.7L1019.5 777.0L1024.9 776.4zM1051.6 769.6L1053.8 774.5L1059.2 775.1L1055.2 778.8L1056.3 784.1L1051.6 781.4L1046.9 784.1L1048.0 778.8L1044.0 775.1L1049.4 774.5zM1075.7 767.2L1077.9 772.1L1083.3 772.7L1079.3 776.4L1080.4 781.7L1075.7 779.0L1071.0 781.7L1072.1 776.4L1068.1 772.7L1073.5 772.1zM1094.4 764.8L1096.6 769.7L1102.0 770.3L1098.0 774.0L1099.1 779.3L1094.4 776.6L1089.7 779.3L1090.8 774.0L1086.8 770.3L1092.2 769.7zM1109.8 760.4L1112.0 765.3L1117.4 765.9L1113.4 769.6L1114.5 774.9L1109.8 772.2L1105.1 774.9L1106.2 769.6L1102.2 765.9L1107.6 765.3zM1120.2 758.7L1122.4 763.6L1127.8 764.2L1123.8 767.9L1124.9 773.2L1120.2 770.5L1115.5 773.2L1116.6 767.9L1112.6 764.2L1118.0 763.6zM1127.1 756.6L1129.3 761.5L1134.7 762.1L1130.7 765.8L1131.8 771.1L1127.1 768.4L1122.4 771.1L1123.5 765.8L1119.5 762.1L1124.9 761.5zM1138.3 749.9L1140.5 754.8L1145.9 755.4L1141.9 759.1L1143.0 764.4L1138.3 761.7L1133.6 764.4L1134.7 759.1L1130.7 755.4L1136.1 754.8zM1146.9 744.4L1149.1 749.3L1154.5 749.9L1150.5 753.6L1151.6 758.9L1146.9 756.2L1142.2 758.9L1143.3 753.6L1139.3 749.9L1144.7 749.3zM1156.0 735.8L1158.2 740.7L1163.6 741.3L1159.6 745.0L1160.7 750.3L1156.0 747.6L1151.3 750.3L1152.4 745.0L1148.4 741.3L1153.8 740.7zM1169.5 719.3L1171.7 724.2L1177.1 724.8L1173.1 728.5L1174.2 733.8L1169.5 731.1L1164.8 733.8L1165.9 728.5L1161.9 724.8L1167.3 724.2zM1171.9 706.5L1174.1 711.4L1179.5 712.0L1175.5 715.7L1176.6 721.0L1171.9 718.3L1167.2 721.0L1168.3 715.7L1164.3 712.0L1169.7 711.4zM1175.0 688.8L1177.2 693.7L1182.6 694.3L1178.6 698.0L1179.7 703.3L1175.0 700.6L1170.3 703.3L1171.4 698.0L1167.4 694.3L1172.8 693.7zM1181.0 633.2L1183.2 638.1L1188.6 638.7L1184.6 642.4L1185.7 647.7L1181.0 645.0L1176.3 647.7L1177.4 642.4L1173.4 638.7L1178.8 638.1zM1184.4 555.0L1186.6 559.9L1192.0 560.5L1188.0 564.2L1189.1 569.5L1184.4 566.8L1179.7 569.5L1180.8 564.2L1176.8 560.5L1182.2 559.9zM1188.3 465.3L1190.5 470.2L1195.9 470.8L1191.9 474.5L1193.0 479.8L1188.3 477.1L1183.6 479.8L1184.7 474.5L1180.7 470.8L1186.1 470.2zM1186.4 448.2L1188.6 453.1L1194.0 453.7L1190.0 457.4L1191.1 462.7L1186.4 460.0L1181.7 462.7L1182.8 457.4L1178.8 453.7L1184.2 453.1zM1188.3 432.3L1190.5 437.2L1195.9 437.8L1191.9 441.5L1193.0 446.8L1188.3 444.1L1183.6 446.8L1184.7 441.5L1180.7 437.8L1186.1 437.2zM1190.1 418.3L1192.3 423.2L1197.7 423.8L1193.7 427.5L1194.8 432.8L1190.1 430.1L1185.4 432.8L1186.5 427.5L1182.5 423.8L1187.9 423.2zM1190.1 418.3L1192.3 423.2L1197.7 423.8L1193.7 427.5L1194.8 432.8L1190.1 430.1L1185.4 432.8L1186.5 427.5L1182.5 423.8L1187.9 423.2zM1180.3 504.4L1182.5 509.3L1187.9 509.9L1183.9 513.6L1185.0 518.9L1180.3 516.2L1175.6 518.9L1176.7 513.6L1172.7 509.9L1178.1 509.3zM1172.9 592.2L1175.1 597.1L1180.5 597.7L1176.5 601.4L1177.6 606.7L1172.9 604.0L1168.2 606.7L1169.3 601.4L1165.3 597.7L1170.7 597.1zM1164.6 673.5L1166.8 678.4L1172.2 679.0L1168.2 682.7L1169.3 688.0L1164.6 685.3L1159.9 688.0L1161.0 682.7L1157.0 679.0L1162.4 678.4zM1155.4 718.1L1157.6 723.0L1163.0 723.6L1159.0 727.3L1160.1 732.6L1155.4 729.9L1150.7 732.6L1151.8 727.3L1147.8 723.6L1153.2 723.0zM1127.1 756.6L1129.3 761.5L1134.7 762.1L1130.7 765.8L1131.8 771.1L1127.1 768.4L1122.4 771.1L1123.5 765.8L1119.5 762.1L1124.9 761.5zM1098.6 763.0L1100.8 767.9L1106.2 768.5L1102.2 772.2L1103.3 777.5L1098.6 774.8L1093.9 777.5L1095.0 772.2L1091.0 768.5L1096.4 767.9zM1042.0 770.6L1044.2 775.5L1049.6 776.1L1045.6 779.8L1046.7 785.1L1042.0 782.4L1037.3 785.1L1038.4 779.8L1034.4 776.1L1039.8 775.5zM989.1 775.4L991.3 780.3L996.7 780.9L992.7 784.6L993.8 789.9L989.1 787.2L984.4 789.9L985.5 784.6L981.5 780.9L986.9 780.3zM592.1 789.9L594.3 794.8L599.7 795.4L595.7 799.1L596.8 804.4L592.1 801.7L587.4 804.4L588.5 799.1L584.5 795.4L589.9 794.8zM542.8 791.7L545.0 796.6L550.4 797.2L546.4 800.9L547.5 806.2L542.8 803.5L538.1 806.2L539.2 800.9L535.2 797.2L540.6 796.6zM493.4 793.1L495.6 798.0L501.0 798.6L497.0 802.3L498.1 807.6L493.4 804.9L488.7 807.6L489.8 802.3L485.8 798.6L491.2 798.0zM444.1 794.0L446.3 798.9L451.7 799.5L447.7 803.2L448.8 808.5L444.1 805.8L439.4 808.5L440.5 803.2L436.5 799.5L441.9 798.9zM336.4 797.3L338.6 802.2L344.0 802.8L340.0 806.5L341.1 811.8L336.4 809.1L331.7 811.8L332.8 806.5L328.8 802.8L334.2 802.2z" fill="#ff0000"/>
<path d="M214.2 22.8H1202.8M1201 22.8V818.1" stroke="#000" stroke-width="3.6" fill="none"/>
<path d="M279.6 67.8H370.8" stroke="#ff00ff" stroke-width="2.3"/>
<path d="M315.00 57.80h20.00v20.00h-20.00z" fill="#ff00ff"/>
<path d="M279.6 126.4H370.8" stroke="#0000ff" stroke-width="1.7"/>
<path d="M315.0 126.4a10 10 0 1 0 20 0a10 10 0 1 0 -20 0z" fill="#0000ff"/>
<path d="M279.6 185.8H370.8" stroke="#00ff00" stroke-width="2.3"/>
<path d="M325.0 173.8L336.5 185.8L325.0 197.8L313.5 185.8z" fill="#00ff00"/>
<path d="M279.6 244.4H370.8" stroke="#ff0000" stroke-width="1.7"/>
<path d="M325.0 234.3L328.1 241.1L335.5 241.9L329.9 246.9L331.5 254.2L325.0 250.5L318.5 254.2L320.1 246.9L314.5 241.9L321.9 241.1z" fill="#ff0000"/>
<g transform="translate(182.08,883.18) scale(0.9588,1.0366)"><text x="0" y="0" font-size="50" font-family="'Liberation Sans', sans-serif">0.0</text></g>
<g transform="translate(378.16,883.18) scale(0.9677,1.0366)"><text x="0" y="0" font-size="50" font-family="'Liberation Sans', sans-serif">0.2</text></g>
<g transform="translate(577.29,883.18) scale(0.9545,1.0366)"><text x="0" y="0" font-size="50" font-family="'Liberation Sans', sans-serif">0.4</text></g>
<g transform="translate(772.97,883.18) scale(0.9655,1.0366)"><text x="0" y="0" font-size="50" font-family="'Liberation Sans', sans-serif">0.6</text></g>
<g transform="translate(971.37,883.18) scale(0.9655,1.0366)"><text x="0" y="0" font-size="50" font-family="'Liberation Sans', sans-serif">0.8</text></g>
<g transform="translate(1169.88,883.18) scale(0.9396,1.0366)"><text x="0" y="0" font-size="50" font-family="'Liberation Sans', sans-serif">1.0</text></g>
<g transform="translate(106.92,126.48) scale(0.9814,1.0366)"><text x="0" y="0" font-size="50" font-family="'Liberation Sans', sans-serif">160</text></g>
<g transform="translate(106.92,302.88) scale(0.9814,1.0366)"><text x="0" y="0" font-size="50" font-family="'Liberation Sans', sans-serif">120</text></g>
<g transform="translate(132.32,478.88) scale(1.0155,1.0366)"><text x="0" y="0" font-size="50" font-family="'Liberation Sans', sans-serif">80</text></g>
<g transform="translate(132.43,655.18) scale(1.0133,1.0366)"><text x="0" y="0" font-size="50" font-family="'Liberation Sans', sans-serif">40</text></g>
<g transform="translate(160.12,831.28) scale(1.0400,1.0366)"><text x="0" y="0" font-size="50" font-family="'Liberation Sans', sans-serif">0</text></g>
<g transform="translate(387.99,82.50) scale(0.9793,1.0545)"><text x="0" y="0" font-size="40" font-family="'Liberation Sans', sans-serif">SiO<tspan font-size="24" dy="6.5">2</tspan><tspan dy="-6.5">(50nm)</tspan></text></g>
<g transform="translate(389.09,140.90) scale(0.8597,1.0545)"><text x="0" y="0" font-size="40" font-family="'Liberation Sans', sans-serif">APTES</text></g>
<g transform="translate(501.00,139.73) scale(0.8000,0.8493)"><text x="0" y="0" font-size="40" font-family="'Liberation Sans', sans-serif">@</text></g>
<g transform="translate(533.09,140.90) scale(0.9798,1.0545)"><text x="0" y="0" font-size="40" font-family="'Liberation Sans', sans-serif">SiO<tspan font-size="24" dy="6.5">2</tspan><tspan dy="-6.5">(50nm)</tspan></text></g>
<g transform="translate(387.88,199.00) scale(0.9811,1.0545)"><text x="0" y="0" font-size="40" font-family="'Liberation Sans', sans-serif">SiO<tspan font-size="24" dy="6.5">2</tspan><tspan dy="-6.5">(200nm)</tspan></text></g>
<g transform="translate(389.09,256.90) scale(0.8597,1.0545)"><text x="0" y="0" font-size="40" font-family="'Liberation Sans', sans-serif">APTES</text></g>
<g transform="translate(501.00,255.73) scale(0.8000,0.8493)"><text x="0" y="0" font-size="40" font-family="'Liberation Sans', sans-serif">@</text></g>
<g transform="translate(532.78,256.90) scale(0.9811,1.0545)"><text x="0" y="0" font-size="40" font-family="'Liberation Sans', sans-serif">SiO<tspan font-size="24" dy="6.5">2</tspan><tspan dy="-6.5">(200nm)</tspan></text></g>
<g transform="translate(635.76,956.10) scale(1.1520,1.0289)"><text x="0" y="0" font-size="50" font-family="'Liberation Sans', sans-serif">p/p<tspan font-size="29" dy="7">0</tspan></text></g>
<g transform="translate(64.80,616.04) rotate(-90) scale(0.9740,1.0464)"><text x="0" y="0" font-size="50" font-family="'Liberation Sans', sans-serif">V (cm</text></g>
<g transform="translate(49.50,490.65) rotate(-90) scale(0.6255,0.5944)"><text x="0" y="0" font-size="50" font-family="'Liberation Sans', sans-serif">3</text></g>
<g transform="translate(64.80,472.00) rotate(-90) scale(0.9330,1.0464)"><text x="0" y="0" font-size="50" font-family="'Liberation Sans', sans-serif">/g STTP)</text></g>
</svg>
</body></html>
